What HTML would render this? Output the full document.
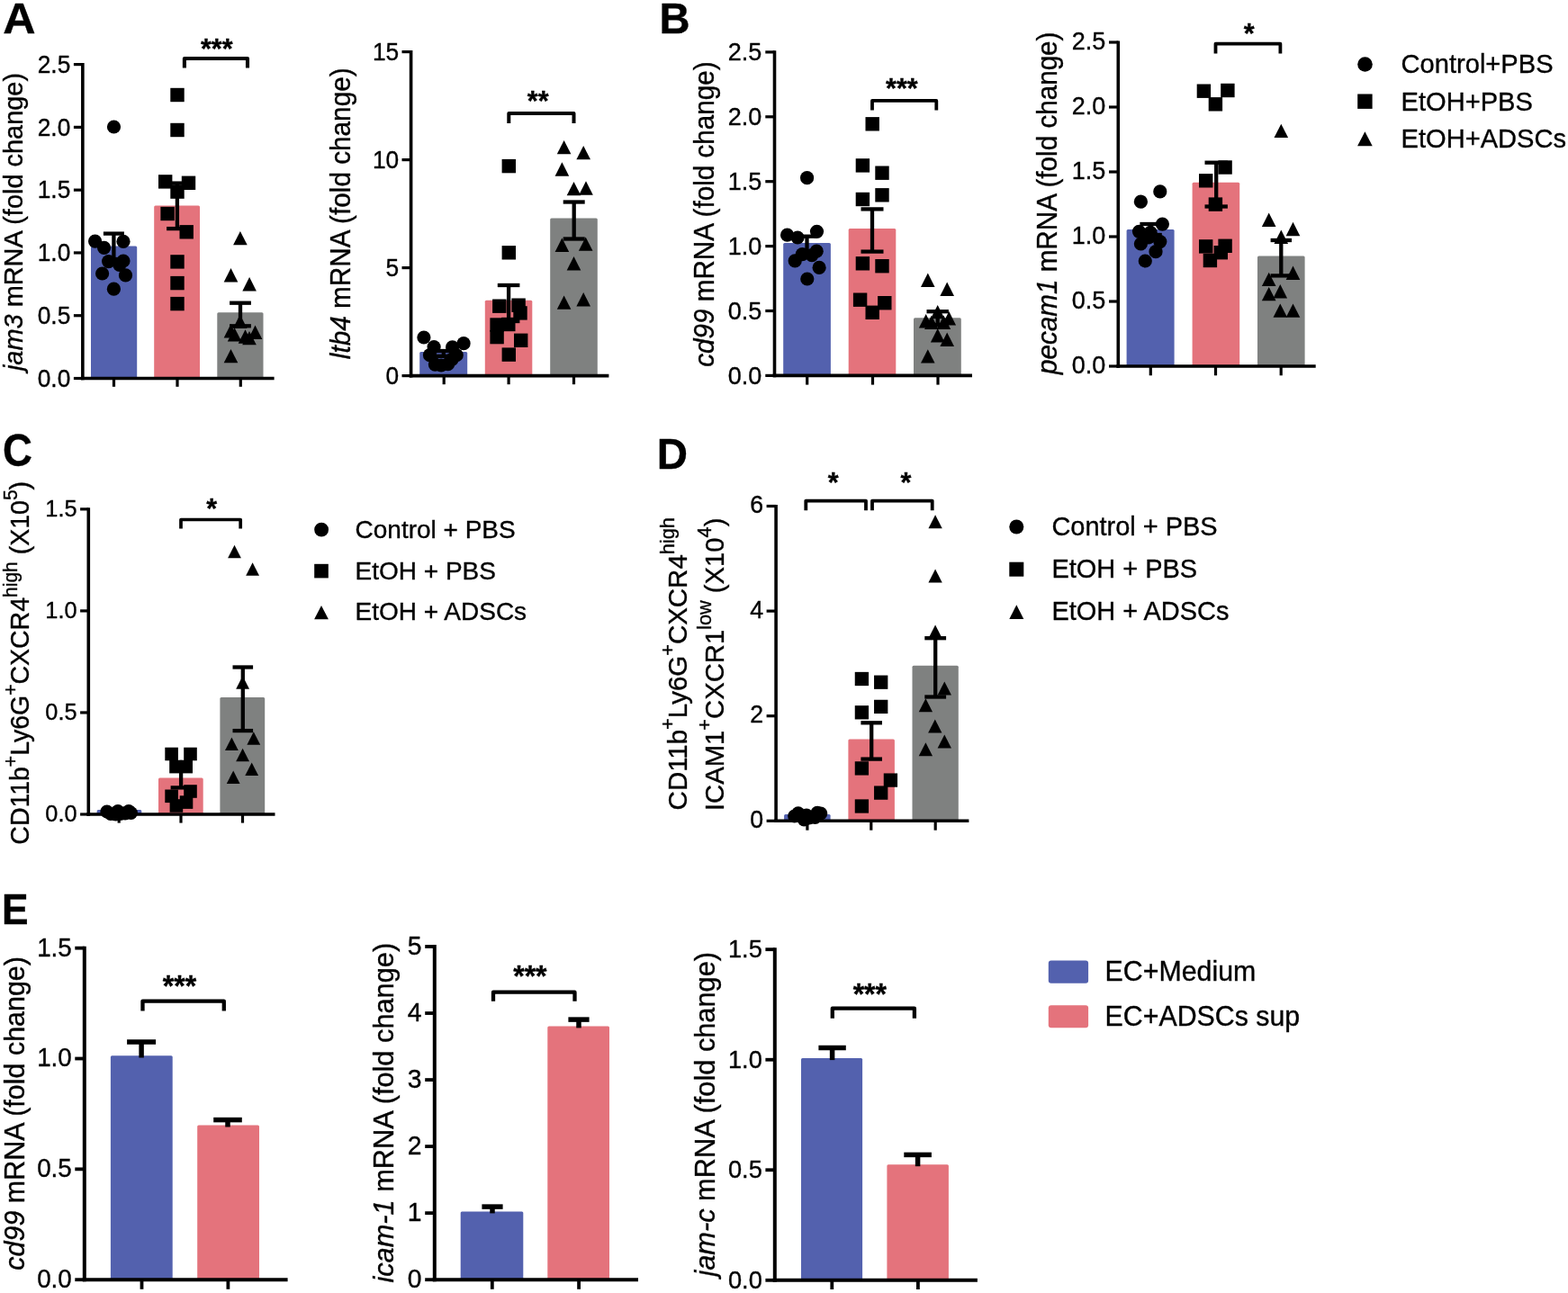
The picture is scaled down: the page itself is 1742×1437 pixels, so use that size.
<!DOCTYPE html>
<html><head><meta charset="utf-8"><title>Figure</title>
<style>
html,body{margin:0;padding:0;background:#fff;}
svg{display:block;}
text{font-family:'Liberation Sans', Arial, Helvetica, sans-serif;fill:#000;white-space:pre;stroke:#000;stroke-width:0.35px;}
</style></head>
<body>
<svg width="1742" height="1437" viewBox="0 0 1742 1437">
<rect width="1742" height="1437" fill="#fff"/>
<g fill="#000">
<text transform="translate(3.3,37.2) scale(1.06,1.03)" font-size="47.4" font-weight="bold">A</text>
<rect x="101" y="273.5" width="51.2" height="147" fill="#5361ae" rx="1.5"/>
<rect x="171.2" y="228.6" width="50.8" height="191.9" fill="#e4737c" rx="1.5"/>
<rect x="241.3" y="347.3" width="51.2" height="73.2" fill="#7f8180" rx="1.5"/>
<line x1="91.85" y1="70" x2="91.85" y2="422.3" stroke="#000" stroke-width="3.6" stroke-linecap="butt"/>
<line x1="90.05" y1="420.5" x2="304.6" y2="420.5" stroke="#000" stroke-width="3.6" stroke-linecap="butt"/>
<line x1="81.9" y1="420.5" x2="91.85" y2="420.5" stroke="#000" stroke-width="3.2" stroke-linecap="butt"/>
<text transform="translate(78.3,429.79) scale(1,1.03)" font-size="26.3" text-anchor="end">0.0</text>
<line x1="81.9" y1="350.72" x2="91.85" y2="350.72" stroke="#000" stroke-width="3.2" stroke-linecap="butt"/>
<text transform="translate(78.3,360.01) scale(1,1.03)" font-size="26.3" text-anchor="end">0.5</text>
<line x1="81.9" y1="280.94" x2="91.85" y2="280.94" stroke="#000" stroke-width="3.2" stroke-linecap="butt"/>
<text transform="translate(78.3,290.23) scale(1,1.03)" font-size="26.3" text-anchor="end">1.0</text>
<line x1="81.9" y1="211.16" x2="91.85" y2="211.16" stroke="#000" stroke-width="3.2" stroke-linecap="butt"/>
<text transform="translate(78.3,220.45) scale(1,1.03)" font-size="26.3" text-anchor="end">1.5</text>
<line x1="81.9" y1="141.38" x2="91.85" y2="141.38" stroke="#000" stroke-width="3.2" stroke-linecap="butt"/>
<text transform="translate(78.3,150.67) scale(1,1.03)" font-size="26.3" text-anchor="end">2.0</text>
<line x1="81.9" y1="71.6" x2="91.85" y2="71.6" stroke="#000" stroke-width="3.2" stroke-linecap="butt"/>
<text transform="translate(78.3,80.89) scale(1,1.03)" font-size="26.3" text-anchor="end">2.5</text>
<line x1="126.5" y1="420.5" x2="126.5" y2="429.8" stroke="#000" stroke-width="3.2" stroke-linecap="butt"/>
<line x1="197" y1="420.5" x2="197" y2="429.8" stroke="#000" stroke-width="3.2" stroke-linecap="butt"/>
<line x1="267.3" y1="420.5" x2="267.3" y2="429.8" stroke="#000" stroke-width="3.2" stroke-linecap="butt"/>
<line x1="126.4" y1="259.6" x2="126.4" y2="288" stroke="#000" stroke-width="4.3" stroke-linecap="butt"/>
<line x1="114.9" y1="259.6" x2="137.9" y2="259.6" stroke="#000" stroke-width="4.3" stroke-linecap="butt"/>
<line x1="114.9" y1="288" x2="137.9" y2="288" stroke="#000" stroke-width="4.3" stroke-linecap="butt"/>
<line x1="196.9" y1="203.6" x2="196.9" y2="254.1" stroke="#000" stroke-width="4.3" stroke-linecap="butt"/>
<line x1="185.1" y1="203.6" x2="208.7" y2="203.6" stroke="#000" stroke-width="4.3" stroke-linecap="butt"/>
<line x1="185.1" y1="254.1" x2="208.7" y2="254.1" stroke="#000" stroke-width="4.3" stroke-linecap="butt"/>
<line x1="267" y1="336.7" x2="267" y2="362.3" stroke="#000" stroke-width="4.3" stroke-linecap="butt"/>
<line x1="255.1" y1="336.7" x2="278.9" y2="336.7" stroke="#000" stroke-width="4.3" stroke-linecap="butt"/>
<line x1="255.1" y1="362.3" x2="278.9" y2="362.3" stroke="#000" stroke-width="4.3" stroke-linecap="butt"/>
<circle cx="126.5" cy="141" r="7.6"/>
<circle cx="105.6" cy="268.1" r="7.6"/>
<circle cx="115.6" cy="275.3" r="7.6"/>
<circle cx="137" cy="268.4" r="7.6"/>
<circle cx="120.6" cy="290.6" r="7.6"/>
<circle cx="137" cy="290" r="7.6"/>
<circle cx="132.8" cy="294.5" r="7.6"/>
<circle cx="113.6" cy="304" r="7.6"/>
<circle cx="139.5" cy="305.9" r="7.6"/>
<circle cx="126.4" cy="321.2" r="7.6"/>
<rect x="189.3" y="97.8" width="15.4" height="15.4"/>
<rect x="189.3" y="136.8" width="15.4" height="15.4"/>
<rect x="176" y="194.2" width="15.4" height="15.4"/>
<rect x="201.8" y="195.6" width="15.4" height="15.4"/>
<rect x="189.3" y="205.4" width="15.4" height="15.4"/>
<rect x="178.4" y="229.8" width="15.4" height="15.4"/>
<rect x="199.5" y="250.1" width="15.4" height="15.4"/>
<rect x="189.3" y="283.2" width="15.4" height="15.4"/>
<rect x="189.3" y="306.9" width="15.4" height="15.4"/>
<rect x="189.3" y="329.9" width="15.4" height="15.4"/>
<polygon points="259.1,272.3 274.7,272.3 266.9,256.9"/>
<polygon points="248.7,313.4 264.3,313.4 256.5,298"/>
<polygon points="269.3,323.4 284.9,323.4 277.1,308"/>
<polygon points="258.9,365 274.5,365 266.7,349.6"/>
<polygon points="248.7,375.4 264.3,375.4 256.5,360"/>
<polygon points="252.8,379.6 268.4,379.6 260.6,364.2"/>
<polygon points="264.7,381.7 280.3,381.7 272.5,366.3"/>
<polygon points="269.2,383.3 284.8,383.3 277,367.9"/>
<polygon points="275.7,377 291.3,377 283.5,361.6"/>
<polygon points="248.7,403.3 264.3,403.3 256.5,387.9"/>
<path d="M204.9,75.6 V65 H275 V75.6" fill="none" stroke="#000" stroke-width="4.1" stroke-linejoin="round"/>
<text transform="translate(240.75,64.88) scale(1,1.03)" font-size="30.5" text-anchor="middle" font-weight="bold">***</text>
<text transform="translate(25.4,246.51) rotate(-90) scale(1,1.03)" font-size="28.93" text-anchor="middle"><tspan font-style="italic">jam3</tspan> mRNA (fold change)</text>
<rect x="466.2" y="391" width="53" height="26.6" fill="#5361ae" rx="1.5"/>
<rect x="538.8" y="333.8" width="52.5" height="83.8" fill="#e4737c" rx="1.5"/>
<rect x="611.2" y="242.5" width="52.6" height="175.1" fill="#7f8180" rx="1.5"/>
<line x1="456.6" y1="56" x2="456.6" y2="419.4" stroke="#000" stroke-width="3.6" stroke-linecap="butt"/>
<line x1="454.8" y1="417.6" x2="676.4" y2="417.6" stroke="#000" stroke-width="3.6" stroke-linecap="butt"/>
<line x1="446.5" y1="417.6" x2="456.6" y2="417.6" stroke="#000" stroke-width="3.2" stroke-linecap="butt"/>
<text transform="translate(443.2,426.89) scale(1,1.03)" font-size="26.3" text-anchor="end">0</text>
<line x1="446.5" y1="297.6" x2="456.6" y2="297.6" stroke="#000" stroke-width="3.2" stroke-linecap="butt"/>
<text transform="translate(443.2,306.89) scale(1,1.03)" font-size="26.3" text-anchor="end">5</text>
<line x1="446.5" y1="177.6" x2="456.6" y2="177.6" stroke="#000" stroke-width="3.2" stroke-linecap="butt"/>
<text transform="translate(443.2,186.89) scale(1,1.03)" font-size="26.3" text-anchor="end">10</text>
<line x1="446.5" y1="57.6" x2="456.6" y2="57.6" stroke="#000" stroke-width="3.2" stroke-linecap="butt"/>
<text transform="translate(443.2,66.89) scale(1,1.03)" font-size="26.3" text-anchor="end">15</text>
<line x1="493.2" y1="417.6" x2="493.2" y2="427.2" stroke="#000" stroke-width="3.2" stroke-linecap="butt"/>
<line x1="565.1" y1="417.6" x2="565.1" y2="427.2" stroke="#000" stroke-width="3.2" stroke-linecap="butt"/>
<line x1="637.5" y1="417.6" x2="637.5" y2="427.2" stroke="#000" stroke-width="3.2" stroke-linecap="butt"/>
<line x1="492.8" y1="390" x2="492.8" y2="395.8" stroke="#000" stroke-width="4.3" stroke-linecap="butt"/>
<line x1="481.3" y1="390" x2="504.3" y2="390" stroke="#000" stroke-width="4.3" stroke-linecap="butt"/>
<line x1="481.3" y1="395.8" x2="504.3" y2="395.8" stroke="#000" stroke-width="4.3" stroke-linecap="butt"/>
<line x1="565.1" y1="317" x2="565.1" y2="357" stroke="#000" stroke-width="4.3" stroke-linecap="butt"/>
<line x1="552.8" y1="317" x2="577.4" y2="317" stroke="#000" stroke-width="4.3" stroke-linecap="butt"/>
<line x1="552.8" y1="357" x2="577.4" y2="357" stroke="#000" stroke-width="4.3" stroke-linecap="butt"/>
<line x1="637.7" y1="224.5" x2="637.7" y2="265.5" stroke="#000" stroke-width="4.3" stroke-linecap="butt"/>
<line x1="625.7" y1="224.5" x2="649.7" y2="224.5" stroke="#000" stroke-width="4.3" stroke-linecap="butt"/>
<line x1="625.7" y1="265.5" x2="649.7" y2="265.5" stroke="#000" stroke-width="4.3" stroke-linecap="butt"/>
<circle cx="470.9" cy="375" r="7.6"/>
<circle cx="515.1" cy="381.7" r="7.6"/>
<circle cx="482.1" cy="385.5" r="7.6"/>
<circle cx="502.6" cy="385.9" r="7.6"/>
<circle cx="477.5" cy="394.7" r="7.6"/>
<circle cx="507.2" cy="394.7" r="7.6"/>
<circle cx="483.4" cy="405.1" r="7.6"/>
<circle cx="490.1" cy="406" r="7.6"/>
<circle cx="497.6" cy="404.7" r="7.6"/>
<circle cx="501.8" cy="399.7" r="7.6"/>
<rect x="557.6" y="176.9" width="15.4" height="15.4"/>
<rect x="557.6" y="273.1" width="15.4" height="15.4"/>
<rect x="547.1" y="332.5" width="15.4" height="15.4"/>
<rect x="568.4" y="331.5" width="15.4" height="15.4"/>
<rect x="570.3" y="340.2" width="15.4" height="15.4"/>
<rect x="544.4" y="353.3" width="15.4" height="15.4"/>
<rect x="557.1" y="352.8" width="15.4" height="15.4"/>
<rect x="544.4" y="366.9" width="15.4" height="15.4"/>
<rect x="571" y="370.6" width="15.4" height="15.4"/>
<rect x="557.6" y="386.4" width="15.4" height="15.4"/>
<polygon points="618.8,171.3 634.4,171.3 626.6,155.9"/>
<polygon points="640.4,177.3 656,177.3 648.2,161.9"/>
<polygon points="616.6,195.7 632.2,195.7 624.4,180.3"/>
<polygon points="629.7,217.3 645.3,217.3 637.5,201.9"/>
<polygon points="643.2,216.7 658.8,216.7 651,201.3"/>
<polygon points="616.6,279.9 632.2,279.9 624.4,264.5"/>
<polygon points="642.9,278.8 658.5,278.8 650.7,263.4"/>
<polygon points="629.7,300.5 645.3,300.5 637.5,285.1"/>
<polygon points="618.8,343.8 634.4,343.8 626.6,328.4"/>
<polygon points="640.4,340.4 656,340.4 648.2,325"/>
<path d="M565.3,137 V125.9 H637.5 V137" fill="none" stroke="#000" stroke-width="4" stroke-linejoin="round"/>
<text transform="translate(597.65,122.78) scale(1,1.03)" font-size="30.5" text-anchor="middle" font-weight="bold">**</text>
<text transform="translate(388.5,237.29) rotate(-90) scale(1,1.03)" font-size="29.74" text-anchor="middle"><tspan font-style="italic">ltb4</tspan> mRNA (fold change)</text>
<text transform="translate(732.6,36.5) scale(1,1.03)" font-size="47.2" font-weight="bold">B</text>
<rect x="870.2" y="270" width="52.7" height="147.4" fill="#5361ae" rx="1.5"/>
<rect x="942.7" y="254" width="52.6" height="163.4" fill="#e4737c" rx="1.5"/>
<rect x="1015" y="353.2" width="52.8" height="64.2" fill="#7f8180" rx="1.5"/>
<line x1="860.5" y1="56.3" x2="860.5" y2="419.2" stroke="#000" stroke-width="3.6" stroke-linecap="butt"/>
<line x1="858.7" y1="417.4" x2="1080" y2="417.4" stroke="#000" stroke-width="3.6" stroke-linecap="butt"/>
<line x1="850.3" y1="417.4" x2="860.5" y2="417.4" stroke="#000" stroke-width="3.2" stroke-linecap="butt"/>
<text transform="translate(846.3,426.94) scale(1,1.03)" font-size="27" text-anchor="end">0.0</text>
<line x1="850.3" y1="345.5" x2="860.5" y2="345.5" stroke="#000" stroke-width="3.2" stroke-linecap="butt"/>
<text transform="translate(846.3,355.04) scale(1,1.03)" font-size="27" text-anchor="end">0.5</text>
<line x1="850.3" y1="273.6" x2="860.5" y2="273.6" stroke="#000" stroke-width="3.2" stroke-linecap="butt"/>
<text transform="translate(846.3,283.14) scale(1,1.03)" font-size="27" text-anchor="end">1.0</text>
<line x1="850.3" y1="201.7" x2="860.5" y2="201.7" stroke="#000" stroke-width="3.2" stroke-linecap="butt"/>
<text transform="translate(846.3,211.24) scale(1,1.03)" font-size="27" text-anchor="end">1.5</text>
<line x1="850.3" y1="129.8" x2="860.5" y2="129.8" stroke="#000" stroke-width="3.2" stroke-linecap="butt"/>
<text transform="translate(846.3,139.34) scale(1,1.03)" font-size="27" text-anchor="end">2.0</text>
<line x1="850.3" y1="57.9" x2="860.5" y2="57.9" stroke="#000" stroke-width="3.2" stroke-linecap="butt"/>
<text transform="translate(846.3,67.44) scale(1,1.03)" font-size="27" text-anchor="end">2.5</text>
<line x1="896.7" y1="417.4" x2="896.7" y2="427.6" stroke="#000" stroke-width="3.2" stroke-linecap="butt"/>
<line x1="969.5" y1="417.4" x2="969.5" y2="427.6" stroke="#000" stroke-width="3.2" stroke-linecap="butt"/>
<line x1="1042" y1="417.4" x2="1042" y2="427.6" stroke="#000" stroke-width="3.2" stroke-linecap="butt"/>
<line x1="896.5" y1="262.7" x2="896.5" y2="284" stroke="#000" stroke-width="4.3" stroke-linecap="butt"/>
<line x1="885.5" y1="262.7" x2="907.5" y2="262.7" stroke="#000" stroke-width="4.3" stroke-linecap="butt"/>
<line x1="885.5" y1="284" x2="907.5" y2="284" stroke="#000" stroke-width="4.3" stroke-linecap="butt"/>
<line x1="969" y1="232.4" x2="969" y2="279.6" stroke="#000" stroke-width="4.3" stroke-linecap="butt"/>
<line x1="956.5" y1="232.4" x2="981.5" y2="232.4" stroke="#000" stroke-width="4.3" stroke-linecap="butt"/>
<line x1="956.5" y1="279.6" x2="981.5" y2="279.6" stroke="#000" stroke-width="4.3" stroke-linecap="butt"/>
<line x1="1041.7" y1="346.2" x2="1041.7" y2="361" stroke="#000" stroke-width="4.3" stroke-linecap="butt"/>
<line x1="1029.5" y1="346.2" x2="1053.9" y2="346.2" stroke="#000" stroke-width="4.3" stroke-linecap="butt"/>
<line x1="1029.5" y1="361" x2="1053.9" y2="361" stroke="#000" stroke-width="4.3" stroke-linecap="butt"/>
<circle cx="896.6" cy="197.7" r="7.6"/>
<circle cx="874.6" cy="261.2" r="7.6"/>
<circle cx="886.1" cy="264" r="7.6"/>
<circle cx="907.5" cy="257.3" r="7.6"/>
<circle cx="891.3" cy="282.6" r="7.6"/>
<circle cx="907.2" cy="279.2" r="7.6"/>
<circle cx="902" cy="283.6" r="7.6"/>
<circle cx="883.2" cy="289.9" r="7.6"/>
<circle cx="910.1" cy="297.4" r="7.6"/>
<circle cx="896.8" cy="310" r="7.6"/>
<rect x="961.5" y="130.1" width="15.4" height="15.4"/>
<rect x="950.7" y="176.2" width="15.4" height="15.4"/>
<rect x="972.3" y="184.5" width="15.4" height="15.4"/>
<rect x="972.3" y="209.1" width="15.4" height="15.4"/>
<rect x="950.7" y="213.8" width="15.4" height="15.4"/>
<rect x="950.7" y="285.1" width="15.4" height="15.4"/>
<rect x="972.3" y="288" width="15.4" height="15.4"/>
<rect x="947.9" y="325.5" width="15.4" height="15.4"/>
<rect x="975.1" y="329" width="15.4" height="15.4"/>
<rect x="961.5" y="339.6" width="15.4" height="15.4"/>
<polygon points="1023,319 1038.6,319 1030.8,303.6"/>
<polygon points="1044.4,329 1060,329 1052.2,313.6"/>
<polygon points="1033.9,354.3 1049.5,354.3 1041.7,338.9"/>
<polygon points="1020.9,364.4 1036.5,364.4 1028.7,349"/>
<polygon points="1046.5,361.5 1062.1,361.5 1054.3,346.1"/>
<polygon points="1027.1,365.9 1042.7,365.9 1034.9,350.5"/>
<polygon points="1040.6,365.9 1056.2,365.9 1048.4,350.5"/>
<polygon points="1033.9,380.5 1049.5,380.5 1041.7,365.1"/>
<polygon points="1044.4,385 1060,385 1052.2,369.6"/>
<polygon points="1023,403.6 1038.6,403.6 1030.8,388.2"/>
<path d="M969,122.5 V111.9 H1040.3 V122.5" fill="none" stroke="#000" stroke-width="3.8" stroke-linejoin="round"/>
<text transform="translate(1001.9,108.88) scale(1,1.03)" font-size="30.5" text-anchor="middle" font-weight="bold">***</text>
<text transform="translate(792.8,238.09) rotate(-90) scale(1,1.03)" font-size="29.65" text-anchor="middle"><tspan font-style="italic">cd99</tspan> mRNA (fold change)</text>
<rect x="1251.6" y="255" width="53" height="152" fill="#5361ae" rx="1.5"/>
<rect x="1324.6" y="202.7" width="52.6" height="204.3" fill="#e4737c" rx="1.5"/>
<rect x="1397" y="284.6" width="52.6" height="122.4" fill="#7f8180" rx="1.5"/>
<line x1="1242.3" y1="45.4" x2="1242.3" y2="408.8" stroke="#000" stroke-width="3.6" stroke-linecap="butt"/>
<line x1="1240.5" y1="407" x2="1461.7" y2="407" stroke="#000" stroke-width="3.6" stroke-linecap="butt"/>
<line x1="1232" y1="407" x2="1242.3" y2="407" stroke="#000" stroke-width="3.2" stroke-linecap="butt"/>
<text transform="translate(1228.2,415.34) scale(1,1.03)" font-size="27" text-anchor="end">0.0</text>
<line x1="1232" y1="335" x2="1242.3" y2="335" stroke="#000" stroke-width="3.2" stroke-linecap="butt"/>
<text transform="translate(1228.2,343.34) scale(1,1.03)" font-size="27" text-anchor="end">0.5</text>
<line x1="1232" y1="263" x2="1242.3" y2="263" stroke="#000" stroke-width="3.2" stroke-linecap="butt"/>
<text transform="translate(1228.2,271.34) scale(1,1.03)" font-size="27" text-anchor="end">1.0</text>
<line x1="1232" y1="191" x2="1242.3" y2="191" stroke="#000" stroke-width="3.2" stroke-linecap="butt"/>
<text transform="translate(1228.2,199.34) scale(1,1.03)" font-size="27" text-anchor="end">1.5</text>
<line x1="1232" y1="119" x2="1242.3" y2="119" stroke="#000" stroke-width="3.2" stroke-linecap="butt"/>
<text transform="translate(1228.2,127.34) scale(1,1.03)" font-size="27" text-anchor="end">2.0</text>
<line x1="1232" y1="47" x2="1242.3" y2="47" stroke="#000" stroke-width="3.2" stroke-linecap="butt"/>
<text transform="translate(1228.2,55.34) scale(1,1.03)" font-size="27" text-anchor="end">2.5</text>
<line x1="1278.3" y1="407" x2="1278.3" y2="417.3" stroke="#000" stroke-width="3.2" stroke-linecap="butt"/>
<line x1="1350.5" y1="407" x2="1350.5" y2="417.3" stroke="#000" stroke-width="3.2" stroke-linecap="butt"/>
<line x1="1423.2" y1="407" x2="1423.2" y2="417.3" stroke="#000" stroke-width="3.2" stroke-linecap="butt"/>
<line x1="1278.6" y1="249" x2="1278.6" y2="261" stroke="#000" stroke-width="4.3" stroke-linecap="butt"/>
<line x1="1266.4" y1="249" x2="1290.8" y2="249" stroke="#000" stroke-width="4.3" stroke-linecap="butt"/>
<line x1="1266.4" y1="261" x2="1290.8" y2="261" stroke="#000" stroke-width="4.3" stroke-linecap="butt"/>
<line x1="1351.2" y1="180.7" x2="1351.2" y2="229.5" stroke="#000" stroke-width="4.3" stroke-linecap="butt"/>
<line x1="1338.5" y1="180.7" x2="1363.9" y2="180.7" stroke="#000" stroke-width="4.3" stroke-linecap="butt"/>
<line x1="1338.5" y1="229.5" x2="1363.9" y2="229.5" stroke="#000" stroke-width="4.3" stroke-linecap="butt"/>
<line x1="1423.3" y1="267" x2="1423.3" y2="306.4" stroke="#000" stroke-width="4.3" stroke-linecap="butt"/>
<line x1="1411.6" y1="267" x2="1435" y2="267" stroke="#000" stroke-width="4.3" stroke-linecap="butt"/>
<line x1="1411.6" y1="306.4" x2="1435" y2="306.4" stroke="#000" stroke-width="4.3" stroke-linecap="butt"/>
<circle cx="1288.8" cy="212.9" r="7.6"/>
<circle cx="1267.4" cy="224.2" r="7.6"/>
<circle cx="1291.4" cy="249.1" r="7.6"/>
<circle cx="1265.5" cy="257.3" r="7.6"/>
<circle cx="1278.1" cy="258.3" r="7.6"/>
<circle cx="1288.8" cy="268.6" r="7.6"/>
<circle cx="1267.4" cy="271" r="7.6"/>
<circle cx="1284" cy="279.7" r="7.6"/>
<circle cx="1272.3" cy="290" r="7.6"/>
<circle cx="1276" cy="264" r="7.6"/>
<rect x="1329.7" y="93.5" width="15.4" height="15.4"/>
<rect x="1356.2" y="92.8" width="15.4" height="15.4"/>
<rect x="1342.7" y="108.1" width="15.4" height="15.4"/>
<rect x="1353.4" y="178.3" width="15.4" height="15.4"/>
<rect x="1332" y="193.1" width="15.4" height="15.4"/>
<rect x="1342.7" y="219.4" width="15.4" height="15.4"/>
<rect x="1332" y="266.2" width="15.4" height="15.4"/>
<rect x="1353.4" y="265.6" width="15.4" height="15.4"/>
<rect x="1348.6" y="273" width="15.4" height="15.4"/>
<rect x="1336.7" y="281.8" width="15.4" height="15.4"/>
<polygon points="1415.5,153.1 1431.1,153.1 1423.3,137.7"/>
<polygon points="1401.9,251.9 1417.5,251.9 1409.7,236.5"/>
<polygon points="1428.7,262.2 1444.3,262.2 1436.5,246.8"/>
<polygon points="1415.5,271 1431.1,271 1423.3,255.6"/>
<polygon points="1428.7,310.9 1444.3,310.9 1436.5,295.5"/>
<polygon points="1401.9,318.1 1417.5,318.1 1409.7,302.7"/>
<polygon points="1414.5,331.4 1430.1,331.4 1422.3,316"/>
<polygon points="1401.9,334.3 1417.5,334.3 1409.7,318.9"/>
<polygon points="1414.5,352.8 1430.1,352.8 1422.3,337.4"/>
<polygon points="1428.7,352.8 1444.3,352.8 1436.5,337.4"/>
<path d="M1350.5,59.4 V48.7 H1422.4 V59.4" fill="none" stroke="#000" stroke-width="3.8" stroke-linejoin="round"/>
<text transform="translate(1387.8,47.88) scale(1,1.03)" font-size="30.5" text-anchor="middle" font-weight="bold">*</text>
<text transform="translate(1174.3,225.77) rotate(-90) scale(1,1.03)" font-size="29.64" text-anchor="middle"><tspan font-style="italic">pecam1</tspan> mRNA (fold change)</text>
<circle cx="1516.5" cy="71.5" r="8.3"/>
<rect x="1508.2" y="104.5" width="16.4" height="16.4"/>
<polygon points="1508.1,162.2 1524.7,162.2 1516.4,146.3"/>
<text transform="translate(1556.6,81.2) scale(1,1.02)" font-size="29.1">Control+PBS</text>
<text transform="translate(1556.6,122.5) scale(1,1.02)" font-size="29.1">EtOH+PBS</text>
<text transform="translate(1556.6,163.7) scale(1,1.02)" font-size="29.1">EtOH+ADSCs</text>
<text transform="translate(3,517.6) scale(0.93,1.03)" font-size="49" font-weight="bold">C</text>
<rect x="107.6" y="900" width="49.7" height="5" fill="#5361ae" rx="1.5"/>
<rect x="176" y="864.6" width="49.7" height="40.4" fill="#e4737c" rx="1.5"/>
<rect x="244.4" y="775" width="49.8" height="130" fill="#7f8180" rx="1.5"/>
<line x1="98.3" y1="564.25" x2="98.3" y2="906.8" stroke="#000" stroke-width="3.6" stroke-linecap="butt"/>
<line x1="96.5" y1="905" x2="305.5" y2="905" stroke="#000" stroke-width="3.6" stroke-linecap="butt"/>
<line x1="89.1" y1="905" x2="98.3" y2="905" stroke="#000" stroke-width="3.2" stroke-linecap="butt"/>
<text transform="translate(85.5,912.72) scale(1,1.03)" font-size="25.3" text-anchor="end">0.0</text>
<line x1="89.1" y1="791.95" x2="98.3" y2="791.95" stroke="#000" stroke-width="3.2" stroke-linecap="butt"/>
<text transform="translate(85.5,799.67) scale(1,1.03)" font-size="25.3" text-anchor="end">0.5</text>
<line x1="89.1" y1="678.9" x2="98.3" y2="678.9" stroke="#000" stroke-width="3.2" stroke-linecap="butt"/>
<text transform="translate(85.5,686.62) scale(1,1.03)" font-size="25.3" text-anchor="end">1.0</text>
<line x1="89.1" y1="565.85" x2="98.3" y2="565.85" stroke="#000" stroke-width="3.2" stroke-linecap="butt"/>
<text transform="translate(85.5,573.57) scale(1,1.03)" font-size="25.3" text-anchor="end">1.5</text>
<line x1="132.2" y1="905" x2="132.2" y2="914.6" stroke="#000" stroke-width="3.2" stroke-linecap="butt"/>
<line x1="201" y1="905" x2="201" y2="914.6" stroke="#000" stroke-width="3.2" stroke-linecap="butt"/>
<line x1="269.5" y1="905" x2="269.5" y2="914.6" stroke="#000" stroke-width="3.2" stroke-linecap="butt"/>
<line x1="201.1" y1="854.7" x2="201.1" y2="875.4" stroke="#000" stroke-width="4.3" stroke-linecap="butt"/>
<line x1="189.6" y1="854.7" x2="212.6" y2="854.7" stroke="#000" stroke-width="4.3" stroke-linecap="butt"/>
<line x1="189.6" y1="875.4" x2="212.6" y2="875.4" stroke="#000" stroke-width="4.3" stroke-linecap="butt"/>
<line x1="269.8" y1="741.5" x2="269.8" y2="812.1" stroke="#000" stroke-width="4.3" stroke-linecap="butt"/>
<line x1="258.5" y1="741.5" x2="281.1" y2="741.5" stroke="#000" stroke-width="4.3" stroke-linecap="butt"/>
<line x1="258.5" y1="812.1" x2="281.1" y2="812.1" stroke="#000" stroke-width="4.3" stroke-linecap="butt"/>
<circle cx="118.8" cy="902" r="7.5"/>
<circle cx="123" cy="904.5" r="7.5"/>
<circle cx="128.5" cy="905" r="7.5"/>
<circle cx="133.5" cy="904.5" r="7.5"/>
<circle cx="139" cy="904" r="7.5"/>
<circle cx="143" cy="901.5" r="7.5"/>
<circle cx="145.5" cy="903.5" r="7.5"/>
<circle cx="131" cy="901.5" r="7.5"/>
<rect x="183.3" y="830.7" width="14.6" height="14.6"/>
<rect x="204.2" y="830.7" width="14.6" height="14.6"/>
<rect x="188.2" y="844.8" width="14.6" height="14.6"/>
<rect x="199.4" y="844.8" width="14.6" height="14.6"/>
<rect x="204.2" y="872.2" width="14.6" height="14.6"/>
<rect x="183.3" y="877.5" width="14.6" height="14.6"/>
<rect x="199.7" y="884.3" width="14.6" height="14.6"/>
<rect x="188.6" y="888.2" width="14.6" height="14.6"/>
<polygon points="253.1,620.3 267.9,620.3 260.5,605.8"/>
<polygon points="273.2,639.7 288,639.7 280.6,625.2"/>
<polygon points="262.2,765.7 277,765.7 269.6,751.2"/>
<polygon points="274.4,827.8 289.2,827.8 281.8,813.3"/>
<polygon points="250,834 264.8,834 257.4,819.5"/>
<polygon points="262.2,846.2 277,846.2 269.6,831.7"/>
<polygon points="272.3,861.9 287.1,861.9 279.7,847.4"/>
<polygon points="251.8,870.9 266.6,870.9 259.2,856.4"/>
<path d="M201,587.6 V577.5 H267.2 V587.6" fill="none" stroke="#000" stroke-width="3.7" stroke-linejoin="round"/>
<text transform="translate(235.2,575.88) scale(1,1.03)" font-size="30.5" text-anchor="middle" font-weight="bold">*</text>
<text transform="translate(31.7,736.8) rotate(-90) scale(1,1.03)" font-size="28.48" text-anchor="middle"><tspan>CD11b</tspan><tspan dy="-12.53" font-size="21.08">+</tspan><tspan dy="12.53">Ly6G</tspan><tspan dy="-12.53" font-size="21.08">+</tspan><tspan dy="12.53">CXCR4</tspan><tspan dy="-12.53" font-size="21.08">high</tspan><tspan dy="12.53"> (X10</tspan><tspan dy="-12.53" font-size="21.08">5</tspan><tspan dy="12.53">)</tspan></text>
<circle cx="357.1" cy="588.7" r="7.9"/>
<rect x="349.2" y="626.8" width="15.6" height="15.6"/>
<polygon points="349.1,688.3 364.9,688.3 357,673.1"/>
<text transform="translate(394.6,598) scale(1,1.02)" font-size="28">Control + PBS</text>
<text transform="translate(394.6,643.7) scale(1,1.02)" font-size="28">EtOH + PBS</text>
<text transform="translate(394.6,689.4) scale(1,1.02)" font-size="28">EtOH + ADSCs</text>
<text transform="translate(729.8,521.4) scale(1,1.03)" font-size="47.5" font-weight="bold">D</text>
<rect x="871.1" y="905" width="51.5" height="7.3" fill="#5361ae" rx="1.5"/>
<rect x="942.4" y="821.4" width="51.5" height="90.9" fill="#e4737c" rx="1.5"/>
<rect x="1013.5" y="739.8" width="51.3" height="172.5" fill="#7f8180" rx="1.5"/>
<line x1="862.1" y1="560.9" x2="862.1" y2="914.1" stroke="#000" stroke-width="3.6" stroke-linecap="butt"/>
<line x1="860.3" y1="912.3" x2="1076.4" y2="912.3" stroke="#000" stroke-width="3.6" stroke-linecap="butt"/>
<line x1="851.6" y1="912.3" x2="862.1" y2="912.3" stroke="#000" stroke-width="3.2" stroke-linecap="butt"/>
<text transform="translate(848.1,920.04) scale(1,1.03)" font-size="26.7" text-anchor="end">0</text>
<line x1="851.6" y1="795.7" x2="862.1" y2="795.7" stroke="#000" stroke-width="3.2" stroke-linecap="butt"/>
<text transform="translate(848.1,803.44) scale(1,1.03)" font-size="26.7" text-anchor="end">2</text>
<line x1="851.6" y1="679.1" x2="862.1" y2="679.1" stroke="#000" stroke-width="3.2" stroke-linecap="butt"/>
<text transform="translate(848.1,686.84) scale(1,1.03)" font-size="26.7" text-anchor="end">4</text>
<line x1="851.6" y1="562.5" x2="862.1" y2="562.5" stroke="#000" stroke-width="3.2" stroke-linecap="butt"/>
<text transform="translate(848.1,570.24) scale(1,1.03)" font-size="26.7" text-anchor="end">6</text>
<line x1="896.9" y1="912.3" x2="896.9" y2="922.7" stroke="#000" stroke-width="3.2" stroke-linecap="butt"/>
<line x1="967.8" y1="912.3" x2="967.8" y2="922.7" stroke="#000" stroke-width="3.2" stroke-linecap="butt"/>
<line x1="1039.2" y1="912.3" x2="1039.2" y2="922.7" stroke="#000" stroke-width="3.2" stroke-linecap="butt"/>
<line x1="968.2" y1="803.3" x2="968.2" y2="843.6" stroke="#000" stroke-width="4.3" stroke-linecap="butt"/>
<line x1="956.4" y1="803.3" x2="980" y2="803.3" stroke="#000" stroke-width="4.3" stroke-linecap="butt"/>
<line x1="956.4" y1="843.6" x2="980" y2="843.6" stroke="#000" stroke-width="4.3" stroke-linecap="butt"/>
<line x1="1039.2" y1="709.2" x2="1039.2" y2="774.5" stroke="#000" stroke-width="4.3" stroke-linecap="butt"/>
<line x1="1027.3" y1="709.2" x2="1051.1" y2="709.2" stroke="#000" stroke-width="4.3" stroke-linecap="butt"/>
<line x1="1027.3" y1="774.5" x2="1051.1" y2="774.5" stroke="#000" stroke-width="4.3" stroke-linecap="butt"/>
<circle cx="882.6" cy="907" r="7.5"/>
<circle cx="886.8" cy="903.8" r="7.5"/>
<circle cx="893.4" cy="911" r="7.5"/>
<circle cx="899" cy="909" r="7.5"/>
<circle cx="905.5" cy="908.5" r="7.5"/>
<circle cx="908" cy="903.3" r="7.5"/>
<circle cx="911.8" cy="904" r="7.5"/>
<circle cx="896" cy="906" r="7.5"/>
<rect x="949.75" y="746.85" width="15.3" height="15.3"/>
<rect x="971.05" y="750.55" width="15.3" height="15.3"/>
<rect x="971.05" y="777.75" width="15.3" height="15.3"/>
<rect x="949.75" y="784.15" width="15.3" height="15.3"/>
<rect x="949.75" y="846.25" width="15.3" height="15.3"/>
<rect x="981.75" y="859.45" width="15.3" height="15.3"/>
<rect x="971.05" y="873.45" width="15.3" height="15.3"/>
<rect x="949.75" y="888.35" width="15.3" height="15.3"/>
<polygon points="1031.45,587.2 1046.75,587.2 1039.1,572.2"/>
<polygon points="1031.45,647.6 1046.75,647.6 1039.1,632.6"/>
<polygon points="1031.45,709.5 1046.75,709.5 1039.1,694.5"/>
<polygon points="1041.65,772.4 1056.95,772.4 1049.3,757.4"/>
<polygon points="1020.75,791.2 1036.05,791.2 1028.4,776.2"/>
<polygon points="1031.15,814.6 1046.45,814.6 1038.8,799.6"/>
<polygon points="1041.65,831.6 1056.95,831.6 1049.3,816.6"/>
<polygon points="1020.75,840.2 1036.05,840.2 1028.4,825.2"/>
<path d="M895.3,567.3 V556.6 H962 V567.3" fill="none" stroke="#000" stroke-width="3.8" stroke-linejoin="round"/>
<path d="M969,567.3 V556.6 H1035.7 V567.3" fill="none" stroke="#000" stroke-width="3.8" stroke-linejoin="round"/>
<text transform="translate(925.6,546.88) scale(1,1.03)" font-size="30.5" text-anchor="middle" font-weight="bold">*</text>
<text transform="translate(1006.4,546.88) scale(1,1.03)" font-size="30.5" text-anchor="middle" font-weight="bold">*</text>
<text transform="translate(762.5,737.7) rotate(-90) scale(1,1.03)" font-size="29.48" text-anchor="middle"><tspan>CD11b</tspan><tspan dy="-12.97" font-size="21.82">+</tspan><tspan dy="12.97">Ly6G</tspan><tspan dy="-12.97" font-size="21.82">+</tspan><tspan dy="12.97">CXCR4</tspan><tspan dy="-12.97" font-size="21.82">high</tspan></text>
<text transform="translate(803.5,738.34) rotate(-90) scale(1,1.03)" font-size="29.27" text-anchor="middle"><tspan>ICAM1</tspan><tspan dy="-12.88" font-size="21.66">+</tspan><tspan dy="12.88">CXCR1</tspan><tspan dy="-12.88" font-size="21.66">low</tspan><tspan dy="12.88"> (X10</tspan><tspan dy="-12.88" font-size="21.66">4</tspan><tspan dy="12.88">)</tspan></text>
<circle cx="1129.3" cy="585.5" r="8"/>
<rect x="1121.3" y="624.7" width="16" height="16"/>
<polygon points="1121.3,688.1 1137.3,688.1 1129.3,672.3"/>
<text transform="translate(1168.4,594.9) scale(1,1.02)" font-size="28.95">Control + PBS</text>
<text transform="translate(1168.4,642.3) scale(1,1.02)" font-size="28.95">EtOH + PBS</text>
<text transform="translate(1168.4,689.2) scale(1,1.02)" font-size="28.95">EtOH + ADSCs</text>
<text transform="translate(1.9,1027.2) scale(0.94,1.03)" font-size="47.2" font-weight="bold">E</text>
<rect x="122.9" y="1173.3" width="68.8" height="248.9" fill="#5361ae" rx="1.5"/>
<rect x="219.2" y="1250.5" width="68.8" height="171.7" fill="#e4737c" rx="1.5"/>
<line x1="93.8" y1="1051.75" x2="93.8" y2="1424.2" stroke="#000" stroke-width="4" stroke-linecap="butt"/>
<line x1="91.8" y1="1422.2" x2="319.6" y2="1422.2" stroke="#000" stroke-width="4" stroke-linecap="butt"/>
<line x1="83.3" y1="1422.2" x2="93.8" y2="1422.2" stroke="#000" stroke-width="3.8" stroke-linecap="butt"/>
<text transform="translate(79.8,1431.14) scale(1,1.03)" font-size="27.8" text-anchor="end">0.0</text>
<line x1="83.3" y1="1299.35" x2="93.8" y2="1299.35" stroke="#000" stroke-width="3.8" stroke-linecap="butt"/>
<text transform="translate(79.8,1308.29) scale(1,1.03)" font-size="27.8" text-anchor="end">0.5</text>
<line x1="83.3" y1="1176.5" x2="93.8" y2="1176.5" stroke="#000" stroke-width="3.8" stroke-linecap="butt"/>
<text transform="translate(79.8,1185.44) scale(1,1.03)" font-size="27.8" text-anchor="end">1.0</text>
<line x1="83.3" y1="1053.65" x2="93.8" y2="1053.65" stroke="#000" stroke-width="3.8" stroke-linecap="butt"/>
<text transform="translate(79.8,1062.59) scale(1,1.03)" font-size="27.8" text-anchor="end">1.5</text>
<line x1="157.5" y1="1422.2" x2="157.5" y2="1432.8" stroke="#000" stroke-width="3.8" stroke-linecap="butt"/>
<line x1="253.4" y1="1422.2" x2="253.4" y2="1432.8" stroke="#000" stroke-width="3.8" stroke-linecap="butt"/>
<line x1="157.1" y1="1158" x2="157.1" y2="1175.5" stroke="#000" stroke-width="5.5" stroke-linecap="butt"/>
<line x1="141.1" y1="1158" x2="173.1" y2="1158" stroke="#000" stroke-width="5.5" stroke-linecap="butt"/>
<line x1="253" y1="1244.6" x2="253" y2="1252.5" stroke="#000" stroke-width="5.5" stroke-linecap="butt"/>
<line x1="237.2" y1="1244.6" x2="268.8" y2="1244.6" stroke="#000" stroke-width="5.5" stroke-linecap="butt"/>
<path d="M158.5,1123.6 V1112.6 H248.8 V1123.6" fill="none" stroke="#000" stroke-width="4.3" stroke-linejoin="round"/>
<text transform="translate(199.45,1107.24) scale(1,1.03)" font-size="32" text-anchor="middle" font-weight="bold">***</text>
<text transform="translate(26.5,1237.37) rotate(-90) scale(1,1.03)" font-size="30.46" text-anchor="middle"><tspan font-style="italic">cd99</tspan> mRNA (fold change)</text>
<rect x="511.7" y="1346.4" width="69.6" height="75.8" fill="#5361ae" rx="1.5"/>
<rect x="608.3" y="1140.4" width="68.7" height="281.8" fill="#e4737c" rx="1.5"/>
<line x1="482.8" y1="1050.1" x2="482.8" y2="1424.2" stroke="#000" stroke-width="4" stroke-linecap="butt"/>
<line x1="480.8" y1="1422.2" x2="709" y2="1422.2" stroke="#000" stroke-width="4" stroke-linecap="butt"/>
<line x1="472.2" y1="1422.2" x2="482.8" y2="1422.2" stroke="#000" stroke-width="3.8" stroke-linecap="butt"/>
<text transform="translate(468.6,1431.02) scale(1,1.03)" font-size="28.3" text-anchor="end">0</text>
<line x1="472.2" y1="1348.16" x2="482.8" y2="1348.16" stroke="#000" stroke-width="3.8" stroke-linecap="butt"/>
<text transform="translate(468.6,1356.98) scale(1,1.03)" font-size="28.3" text-anchor="end">1</text>
<line x1="472.2" y1="1274.12" x2="482.8" y2="1274.12" stroke="#000" stroke-width="3.8" stroke-linecap="butt"/>
<text transform="translate(468.6,1282.94) scale(1,1.03)" font-size="28.3" text-anchor="end">2</text>
<line x1="472.2" y1="1200.08" x2="482.8" y2="1200.08" stroke="#000" stroke-width="3.8" stroke-linecap="butt"/>
<text transform="translate(468.6,1208.9) scale(1,1.03)" font-size="28.3" text-anchor="end">3</text>
<line x1="472.2" y1="1126.04" x2="482.8" y2="1126.04" stroke="#000" stroke-width="3.8" stroke-linecap="butt"/>
<text transform="translate(468.6,1134.86) scale(1,1.03)" font-size="28.3" text-anchor="end">4</text>
<line x1="472.2" y1="1052" x2="482.8" y2="1052" stroke="#000" stroke-width="3.8" stroke-linecap="butt"/>
<text transform="translate(468.6,1060.82) scale(1,1.03)" font-size="28.3" text-anchor="end">5</text>
<line x1="546.8" y1="1422.2" x2="546.8" y2="1432.8" stroke="#000" stroke-width="3.8" stroke-linecap="butt"/>
<line x1="643.1" y1="1422.2" x2="643.1" y2="1432.8" stroke="#000" stroke-width="3.8" stroke-linecap="butt"/>
<line x1="547" y1="1341.1" x2="547" y2="1348.4" stroke="#000" stroke-width="5.5" stroke-linecap="butt"/>
<line x1="535.4" y1="1341.1" x2="558.6" y2="1341.1" stroke="#000" stroke-width="5.5" stroke-linecap="butt"/>
<line x1="643" y1="1133.1" x2="643" y2="1142.4" stroke="#000" stroke-width="5.5" stroke-linecap="butt"/>
<line x1="631.4" y1="1133.1" x2="654.6" y2="1133.1" stroke="#000" stroke-width="5.5" stroke-linecap="butt"/>
<path d="M548,1112.8 V1102.7 H638.5 V1112.8" fill="none" stroke="#000" stroke-width="4.3" stroke-linejoin="round"/>
<text transform="translate(588.85,1096.04) scale(1,1.03)" font-size="32" text-anchor="middle" font-weight="bold">***</text>
<text transform="translate(436.6,1236.72) rotate(-90) scale(1,1.03)" font-size="30.77" text-anchor="middle"><tspan font-style="italic">icam-1</tspan> mRNA (fold change)</text>
<rect x="890" y="1176.1" width="68.1" height="246.7" fill="#5361ae" rx="1.5"/>
<rect x="985.4" y="1294.2" width="68.5" height="128.6" fill="#e4737c" rx="1.5"/>
<line x1="860.8" y1="1053.29" x2="860.8" y2="1424.8" stroke="#000" stroke-width="4" stroke-linecap="butt"/>
<line x1="858.8" y1="1422.8" x2="1085.9" y2="1422.8" stroke="#000" stroke-width="4" stroke-linecap="butt"/>
<line x1="850.4" y1="1422.8" x2="860.8" y2="1422.8" stroke="#000" stroke-width="3.8" stroke-linecap="butt"/>
<text transform="translate(846.8,1431.92) scale(1,1.03)" font-size="27.2" text-anchor="end">0.0</text>
<line x1="850.4" y1="1300.26" x2="860.8" y2="1300.26" stroke="#000" stroke-width="3.8" stroke-linecap="butt"/>
<text transform="translate(846.8,1309.38) scale(1,1.03)" font-size="27.2" text-anchor="end">0.5</text>
<line x1="850.4" y1="1177.73" x2="860.8" y2="1177.73" stroke="#000" stroke-width="3.8" stroke-linecap="butt"/>
<text transform="translate(846.8,1186.85) scale(1,1.03)" font-size="27.2" text-anchor="end">1.0</text>
<line x1="850.4" y1="1055.19" x2="860.8" y2="1055.19" stroke="#000" stroke-width="3.8" stroke-linecap="butt"/>
<text transform="translate(846.8,1064.31) scale(1,1.03)" font-size="27.2" text-anchor="end">1.5</text>
<line x1="924.3" y1="1422.8" x2="924.3" y2="1433" stroke="#000" stroke-width="3.8" stroke-linecap="butt"/>
<line x1="1019.9" y1="1422.8" x2="1019.9" y2="1433" stroke="#000" stroke-width="3.8" stroke-linecap="butt"/>
<line x1="924.6" y1="1164.5" x2="924.6" y2="1178.1" stroke="#000" stroke-width="5.5" stroke-linecap="butt"/>
<line x1="909.4" y1="1164.5" x2="939.8" y2="1164.5" stroke="#000" stroke-width="5.5" stroke-linecap="butt"/>
<line x1="1019.6" y1="1283.4" x2="1019.6" y2="1296.2" stroke="#000" stroke-width="5.5" stroke-linecap="butt"/>
<line x1="1004.3" y1="1283.4" x2="1034.9" y2="1283.4" stroke="#000" stroke-width="5.5" stroke-linecap="butt"/>
<path d="M924.8,1131.7 V1120.7 H1015.9 V1131.7" fill="none" stroke="#000" stroke-width="4.3" stroke-linejoin="round"/>
<text transform="translate(966.3,1116.24) scale(1,1.03)" font-size="32" text-anchor="middle" font-weight="bold">***</text>
<text transform="translate(793.7,1238.3) rotate(-90) scale(1,1.03)" font-size="30.76" text-anchor="middle"><tspan font-style="italic">jam-c</tspan> mRNA (fold change)</text>
<rect x="1164.8" y="1067.4" width="44.3" height="25.3" rx="3" fill="#5361ae"/>
<rect x="1164.8" y="1117.3" width="44.3" height="24.9" rx="3" fill="#e4737c"/>
<text transform="translate(1227.6,1090) scale(1,1.02)" font-size="30.35">EC+Medium</text>
<text transform="translate(1227.6,1139.9) scale(1,1.02)" font-size="30.35">EC+ADSCs sup</text>
</g>
</svg>
</body></html>
